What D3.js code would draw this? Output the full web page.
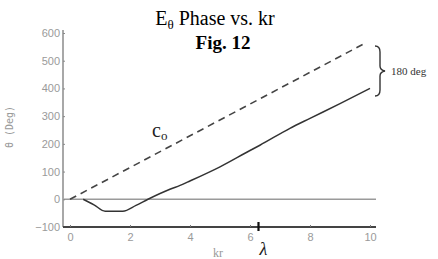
<!DOCTYPE html>
<html><head><meta charset="utf-8">
<script src="https://cdn.jsdelivr.net/npm/d3@7"></script>
<style>body{margin:0;background:#fff}svg{display:block}</style>
</head><body>
<svg id="c" width="438" height="259"></svg>
<script>
const xTicks = [0, 2, 4, 6, 8, 10];
const yTicks = [-100, 0, 100, 200, 300, 400, 500, 600];
// dashed reference line c_o : phase = kr in degrees
const coKr = [0, 9.85];
const coPhase = [0, 564];
// solid E_theta phase curve
const ePhaseKr =  [0.44, 0.8, 1.17, 1.76, 2.2, 2.6, 3.33, 3.67, 4.0, 5.0, 6.0, 6.33, 7.33, 8.0, 9.0, 10.0];
const ePhaseDeg = [0,   -20,  -43,  -43, -22,  0,   36,   50,   66,  117, 176, 195,  256,  292, 345, 400];
const lambdaKr = 2 * Math.PI;

const svg = d3.select("#c");
const x = d3.scaleLinear().domain([0, 10]).range([70, 370]);
const y = d3.scaleLinear().domain([-100, 600]).range([227, 33]);

// zero line
svg.append("line").attr("x1", 63).attr("x2", 376).attr("y1", y(0)).attr("y2", y(0))
  .attr("stroke", "#9a9a9a").attr("stroke-width", 1.5);

// y axis
const ya = svg.append("g").attr("transform", "translate(63,0)")
  .call(d3.axisRight(y).tickValues(yTicks).tickSize(2).tickFormat(d3.format("d")));
ya.select(".domain").attr("stroke", "#a8a8a8").attr("stroke-width", 2).attr("d", `M0,${y(-100)}V${y(600)-3}`);
ya.selectAll(".tick line").attr("stroke", "#888");
ya.selectAll(".tick text").attr("x", -3).attr("text-anchor", "end")
  .attr("fill", "#9a9a9a").style("font", "11px 'Liberation Sans', sans-serif");

// x axis
const xa = svg.append("g").attr("transform", `translate(0,${y(-100)})`)
  .call(d3.axisTop(x).tickValues(xTicks).tickSize(2).tickFormat(d3.format("d")));
xa.select(".domain").attr("stroke", "#444").attr("stroke-width", 1.8).attr("d", "M63,0H376");
xa.selectAll(".tick line").attr("stroke", "#777");
xa.selectAll(".tick text").attr("y", 14).attr("dy", 0).attr("fill", "#9a9a9a")
  .style("font", "11px 'Liberation Sans', sans-serif");

// lambda marker
svg.append("line").attr("x1", x(lambdaKr)).attr("x2", x(lambdaKr)).attr("y1", y(-100) - 5).attr("y2", y(-100) + 4)
  .attr("stroke", "#111").attr("stroke-width", 2.2);
svg.append("text").attr("x", x(lambdaKr) + 5).attr("y", 255).attr("text-anchor", "middle")
  .style("font", "italic 18px 'Liberation Serif', serif").attr("fill", "#222").text("λ");

// axis labels
svg.append("text").attr("x", 218).attr("y", 257).attr("text-anchor", "middle")
  .attr("fill", "#999").style("font", "12px 'Liberation Serif', serif").text("kr");
svg.append("text").attr("transform", "translate(13,127) rotate(-90)").attr("text-anchor", "middle")
  .attr("fill", "#999").style("font", "10px 'DejaVu Sans Mono', monospace")
  .text("θ (Deg)");

// c_o dashed line
const line = d3.line().x(d => x(d[0])).y(d => y(d[1]));
svg.append("path").datum(coKr.map((k, i) => [k, coPhase[i]])).attr("d", line)
  .attr("fill", "none").attr("stroke", "#444").attr("stroke-width", 1.6).attr("stroke-dasharray", "7,5");

// solid curve
svg.append("path").datum(ePhaseKr.map((k, i) => [k, ePhaseDeg[i]])).attr("d", d3.line().x(d => x(d[0])).y(d => y(d[1])).curve(d3.curveMonotoneX))
  .attr("fill", "none").attr("stroke", "#333").attr("stroke-width", 1.5);

// title
svg.append("text").attr("x", 215).attr("y", 25).attr("text-anchor", "middle")
  .style("font", "20px 'Liberation Serif', serif").attr("fill", "#000")
  .html('E<tspan dy="4" font-size="13">θ</tspan><tspan dy="-4"> Phase vs. kr</tspan>');
svg.append("text").attr("x", 223).attr("y", 49).attr("text-anchor", "middle")
  .style("font", "bold 19px 'Liberation Serif', serif").attr("fill", "#000").text("Fig. 12");

// c_o label
svg.append("text").attr("x", 152).attr("y", 137)
  .style("font", "20px 'Liberation Serif', serif").attr("fill", "#222")
  .html('c<tspan dy="3" font-size="13">o</tspan>');

// brace and 180 deg
svg.append("path")
  .attr("d", "M375,46 Q380,46 380,52 L380,66 Q380,70 385,71 Q380,72 380,76 L380,90 Q380,96 375,96")
  .attr("fill", "none").attr("stroke", "#333").attr("stroke-width", 1.4);
svg.append("text").attr("x", 391).attr("y", 75)
  .style("font", "11px 'Liberation Serif', serif").attr("fill", "#333").text("180 deg");
</script>
</body></html>
